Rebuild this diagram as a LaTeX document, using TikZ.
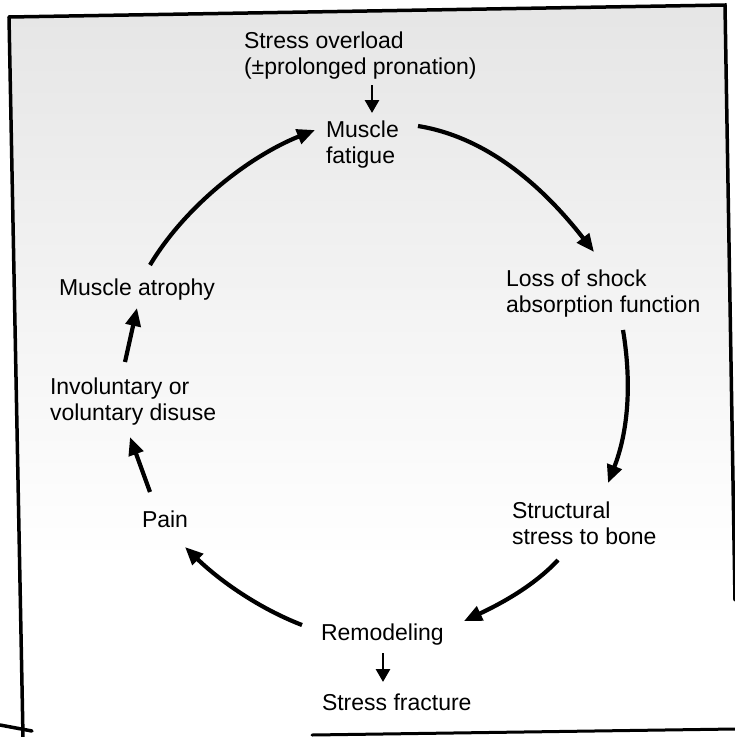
\documentclass[tikz,border=0pt]{standalone}
\usepackage{fontspec}
\setmainfont{Liberation Sans}
\usetikzlibrary{arrows.meta}
\begin{document}
\begin{tikzpicture}[x=1pt,y=-1pt,
  lbl/.style={inner sep=0pt, outer sep=0pt, anchor=base west, align=left,
    font=\fontsize{23}{26.5}\selectfont},
  cyc/.style={line width=4.2pt, -{Triangle[length=18pt,width=15pt]}},
  feed/.style={line width=2.8pt, -{Triangle[length=13pt,width=14pt]}},
  frameline/.style={line width=3.5pt, line cap=round}]
\useasboundingbox (0,0) rectangle (735,737);
% background tint of the scanned halftone
\shade[top color=black!10, bottom color=white] (9,17) -- (725,5) -- (734,560) -- (20,560) -- cycle;
% frame
\draw[frameline] (9,17) -- (725,5) -- (735,600);
\draw[frameline] (9,17) -- (23,737);
\draw[frameline] (0,725) -- (32,731);
\draw[frameline, line width=3pt] (312,735) -- (735,729);
% labels (base west = baseline of the last line)
\node[lbl] (stress) at (244,74.5) {Stress overload\\(±prolonged pronation)};
\node[lbl] (fatigue) at (326,163.5) {Muscle\\fatigue};
\node[lbl] (loss) at (506,312.5) {Loss of shock\\absorption function};
\node[lbl] (structural) at (512,544.5) {Structural\\stress to bone};
\node[lbl] (remodel) at (321,640) {Remodeling};
\node[lbl] (fracture) at (322,710) {Stress fracture};
\node[lbl] (pain) at (142,527) {Pain};
\node[lbl] (disuse) at (50,420.5) {Involuntary or\\voluntary disuse};
\node[lbl] (atrophy) at (59,295) {Muscle atrophy};
% feeding arrows
\draw[feed] ([shift={(128,10.5)}]stress.base west) -- ([shift={(46,-50.5)}]fatigue.base west);
\draw[feed] ([shift={(62,13)}]remodel.base west) -- ([shift={(61,-28)}]fracture.base west);
% cycle
\draw[cyc] ([shift={(92,-37.5)}]fatigue.base west) .. controls +(74,12) and +(-46,-59) .. ([shift={(88,-60.5)}]loss.base west);
\draw[cyc] ([shift={(117,17.5)}]loss.base west) .. controls +(9,54) and +(20,-51) .. ([shift={(96,-61.5)}]structural.base west);
\draw[cyc] ([shift={(46,15.5)}]structural.base west) .. controls +(-25,27) and +(34,-16) .. ([shift={(143,-19)}]remodel.base west);
\draw[cyc] ([shift={(-19,-15)}]remodel.base west) .. controls +(-44,-17) and +(34,33) .. ([shift={(43,20)}]pain.base west);
\draw[cyc] ([shift={(8,-35)}]pain.base west) -- ([shift={(80,16.5)}]disuse.base west);
\draw[cyc] ([shift={(75,-58.5)}]disuse.base west) -- ([shift={(78,13)}]atrophy.base west);
\draw[cyc] ([shift={(91,-30)}]atrophy.base west) .. controls +(36,-60) and +(-65,26) .. ([shift={(-11,-33.5)}]fatigue.base west);
\end{tikzpicture}
\end{document}
